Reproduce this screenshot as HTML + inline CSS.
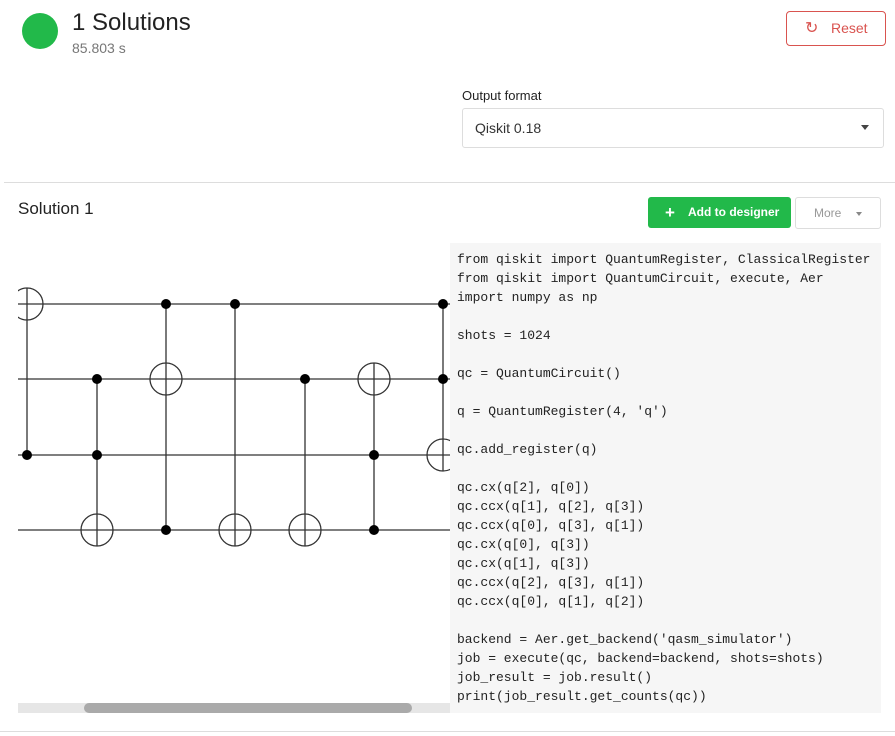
<!DOCTYPE html>
<html><head><style>
body{margin:0;width:895px;height:736px;background:#fff;font-family:"Liberation Sans",sans-serif;position:relative;overflow:hidden}
.a{position:absolute}
</style></head><body>
<div class="a" style="left:22px;top:13px;width:36px;height:36px;border-radius:50%;background:#22b94a"></div>
<div class="a" style="left:72px;top:9px;font-size:24px;color:#222">1 Solutions</div>
<div class="a" style="left:72px;top:40px;font-size:14px;color:#777">85.803 s</div>
<div class="a" style="left:786px;top:11px;width:98px;height:33px;border:1px solid #d9534f;border-radius:4px;color:#d9534f;font-size:14px;line-height:33px;box-sizing:content-box"><span style="position:absolute;left:18px;top:0;font-size:16px">↻</span><span style="position:absolute;left:44px">Reset</span></div>
<div class="a" style="left:462px;top:88px;font-size:13px;color:#222">Output format</div>
<div class="a" style="left:462px;top:108px;width:420px;height:38px;border:1px solid #ddd;border-radius:3px;font-size:14px;line-height:38px;color:#333"><span style="margin-left:12px">Qiskit 0.18</span><span style="position:absolute;right:14px;top:16px;border-left:4px solid transparent;border-right:4px solid transparent;border-top:5px solid #444"></span></div>
<div class="a" style="left:4px;top:182px;width:891px;height:1px;background:#ddd"></div>
<div class="a" style="left:18px;top:199px;font-size:17px;color:#222">Solution 1</div>
<div class="a" style="left:648px;top:197px;width:143px;height:31px;background:#22b94a;border-radius:3px;color:#fff;font-size:12px;font-weight:bold;line-height:31px"><span style="position:absolute;left:17px;font-size:17px">+</span><span style="position:absolute;left:40px">Add to designer</span></div>
<div class="a" style="left:795px;top:197px;width:84px;height:30px;border:1px solid #ddd;border-radius:3px;color:#999;font-size:12px;line-height:30px"><span style="position:absolute;left:18px">More</span><span style="position:absolute;left:60px;top:14px;border-left:3px solid transparent;border-right:3px solid transparent;border-top:4px solid #888"></span></div>
<svg class="a" style="left:18px;top:240px" width="432" height="480" viewBox="18 0 432 480">
<g stroke="#333" stroke-width="1.3" fill="none">
<line x1="18" y1="64" x2="450" y2="64"/><line x1="18" y1="139" x2="450" y2="139"/><line x1="18" y1="215" x2="450" y2="215"/><line x1="18" y1="290" x2="450" y2="290"/>
<line x1="27" y1="48" x2="27" y2="215"/><circle cx="27" cy="64" r="16"/>
<line x1="97" y1="139" x2="97" y2="306"/><circle cx="97" cy="290" r="16"/>
<line x1="166" y1="64" x2="166" y2="290"/><circle cx="166" cy="139" r="16"/>
<line x1="235" y1="64" x2="235" y2="306"/><circle cx="235" cy="290" r="16"/>
<line x1="305" y1="139" x2="305" y2="306"/><circle cx="305" cy="290" r="16"/>
<line x1="374" y1="123" x2="374" y2="290"/><circle cx="374" cy="139" r="16"/>
<line x1="443" y1="64" x2="443" y2="231"/><circle cx="443" cy="215" r="16"/>
</g>
<g fill="#000">
<circle cx="27" cy="215" r="5"/><circle cx="97" cy="139" r="5"/><circle cx="97" cy="215" r="5"/>
<circle cx="166" cy="64" r="5"/><circle cx="166" cy="290" r="5"/><circle cx="235" cy="64" r="5"/>
<circle cx="305" cy="139" r="5"/><circle cx="374" cy="215" r="5"/><circle cx="374" cy="290" r="5"/>
<circle cx="443" cy="64" r="5"/><circle cx="443" cy="139" r="5"/>
</g>
<rect x="18" y="463" width="432" height="10" fill="#e6e6e6"/>
<rect x="84" y="463" width="328" height="10" rx="5" fill="#aaa"/>
</svg>
<div class="a" style="left:450px;top:243px;width:431px;height:470px;background:#f6f6f6;overflow:hidden"><pre style="margin:0;padding:7px 0 0 7px;font-family:'Liberation Mono',monospace;font-size:13px;line-height:19px;color:#222">from qiskit import QuantumRegister, ClassicalRegister
from qiskit import QuantumCircuit, execute, Aer
import numpy as np

shots = 1024

qc = QuantumCircuit()

q = QuantumRegister(4, 'q')

qc.add_register(q)

qc.cx(q[2], q[0])
qc.ccx(q[1], q[2], q[3])
qc.ccx(q[0], q[3], q[1])
qc.cx(q[0], q[3])
qc.cx(q[1], q[3])
qc.ccx(q[2], q[3], q[1])
qc.ccx(q[0], q[1], q[2])

backend = Aer.get_backend('qasm_simulator')
job = execute(qc, backend=backend, shots=shots)
job_result = job.result()
print(job_result.get_counts(qc))</pre></div>
<div class="a" style="left:0;top:731px;width:895px;height:1px;background:#ddd"></div>
</body></html>
